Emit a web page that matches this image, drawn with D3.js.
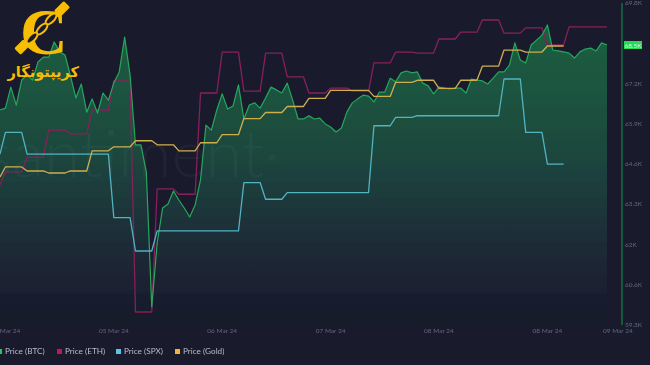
<!DOCTYPE html>
<html><head><meta charset="utf-8">
<script src="https://cdnjs.cloudflare.com/ajax/libs/d3/7.8.5/d3.min.js"></script>
<style>html,body{margin:0;padding:0;background:#191a2c;overflow:hidden}svg{display:block}text{font-family:Lato,"Open Sans",sans-serif}</style>
</head><body><svg id="c" width="650" height="365"></svg>
<script>
const btc=[66.34,66.40,67.08,66.50,67.31,67.47,67.31,67.89,68.05,68.05,68.54,68.22,68.12,67.44,66.73,67.18,66.27,66.70,66.24,66.89,66.66,67.21,67.57,68.70,67.47,65.21,65.21,64.33,59.97,62.04,63.17,63.30,63.72,63.43,63.17,62.88,63.27,64.08,65.85,65.69,66.34,66.86,66.37,66.47,67.15,66.05,66.50,66.57,66.40,66.73,67.08,66.99,66.89,67.21,66.66,66.05,66.05,66.15,66.05,66.08,65.89,65.79,65.63,65.76,66.27,66.57,66.70,66.82,66.79,66.60,66.92,66.92,67.37,67.25,67.54,67.60,67.54,67.57,67.21,67.12,66.86,67.08,67.05,67.02,67.05,67.05,66.89,67.34,67.31,67.28,67.18,67.37,67.57,67.57,67.79,68.51,67.96,67.86,68.44,68.60,68.76,69.09,68.28,68.25,68.22,68.18,68.02,68.22,68.31,68.34,68.25,68.51,68.44];
const eth=[3561,3588,3618,3674,3666,3715,3775,3300,3553,3542,3750,3834,3754,3832,3783,3750,3760,3754,3812,3834,3832,3861,3875,3900,3873,3884,3849,3886,3886];
const spx=[5118,5131,5118,5118,5118,5118,5080,5060,5072,5072,5072,5072,5101,5091,5095,5095,5095,5095,5135,5140,5141,5141,5141,5141,5163,5131,5112];
const gold=[2113,2118,2116,2115,2116,2126,2128,2131,2129,2126,2130,2134,2142,2145,2148,2152,2156,2156,2153,2160,2161,2157,2161,2168,2176,2175,2178];
const yLabels=["69.8K","68.5K","67.2K","65.9K","64.6K","63.3K","62K","60.6K","59.3K"];
const xLabels=["04 Mar 24","05 Mar 24","06 Mar 24","07 Mar 24","08 Mar 24","08 Mar 24","09 Mar 24"];
const xTickIdx=[1,21,41,61,81,101,114];
const legendNames=["Price (BTC)","Price (ETH)","Price (SPX)","Price (Gold)"];
const legendColors=["#22c55e","#c2185b","#56c5e8","#f5b335"];
const lastLabel="68.5K";
const logoText="کریپتونگار";

const svg=d3.select("#c");
const x=d3.scaleLinear().domain([0,112]).range([0,607]);
const yB=d3.scaleLinear().domain([69.897,59.97]).range([0,307]);
const yE=d3.scaleLinear().domain([3900,3300]).range([20,312]);
const yS=d3.scaleLinear().domain([5163,5060]).range([79,251]);
const yG=d3.scaleLinear().domain([2178,2115]).range([46,173]);
const yT=d3.scalePoint().domain(yLabels).range([3,325]);
const expand=a=>a.flatMap((v,k)=>k===0?[[0,v]]:[1,2,3,4].map(o=>[4*(k-1)+o,v]));

const defs=svg.append("defs");
const g=defs.append("linearGradient").attr("id","ga").attr("gradientUnits","userSpaceOnUse")
 .attr("x1",0).attr("x2",0).attr("y1",30).attr("y2",315);
[[0,"#1b5f40"],[0.4,"#1c4a3e"],[0.72,"#1b2e38"],[1,"#191a2c"]].forEach(s=>
 g.append("stop").attr("offset",s[0]).attr("stop-color",s[1]));
defs.append("filter").attr("id","soft").append("feGaussianBlur").attr("stdDeviation",0.4);

svg.append("rect").attr("width",650).attr("height",365).attr("fill","#191a2c");

const btcPts=btc.map((v,i)=>[i,v]);
const plot=svg.append("g").attr("filter","url(#soft)");
plot.append("path").datum(btcPts).attr("fill","url(#ga)")
 .attr("d",d3.area().x(d=>x(d[0])).y0(325).y1(d=>yB(d[1])));
plot.append("text").attr("x",-16).attr("y",177).attr("font-size",66).attr("font-weight",300)
 .attr("fill","#ffffff").attr("fill-opacity",0.035).text("santiment·");

const line=(pts,yy,c,w)=>plot.append("path").datum(pts).attr("fill","none").attr("stroke",c)
 .attr("stroke-width",w).attr("stroke-linejoin","round").attr("d",d3.line().x(d=>x(d[0])).y(d=>yy(d[1])));
line(expand(eth),yE,"#86205a",1.3);
line(btcPts,yB,"#25a85c",1.2);
line(expand(spx),yS,"#52b3c2",1.3);
line(expand(gold),yG,"#cfae4e",1.3);

plot.append("line").attr("x1",622).attr("x2",622).attr("y1",3).attr("y2",325).attr("stroke","#17583c").attr("stroke-width",2);
const ax=svg.append("g").attr("filter","url(#soft)");
ax.selectAll("text.yt").data(yLabels.filter(d=>d!==lastLabel)).join("text").attr("class","yt").attr("x",625).attr("y",d=>yT(d)+2)
 .attr("font-size",6.5).attr("fill","#63667a").text(d=>d);
ax.append("rect").attr("x",624).attr("y",41).attr("width",18).attr("height",8).attr("fill","#27d957");
ax.append("text").attr("x",633).attr("y",47.5).attr("text-anchor","middle").attr("font-size",6.5).attr("fill","#d8f5dd").text(lastLabel);
ax.selectAll("text.xt").data(xLabels).join("text").attr("class","xt").attr("x",(d,i)=>x(xTickIdx[i])).attr("y",333)
 .attr("text-anchor","middle").attr("font-size",6.5).attr("fill","#63667a").text(d=>d);

const lx=[-3,57,116,175];
const lg=svg.append("g").attr("filter","url(#soft)");
legendNames.forEach((n,i)=>{
 lg.append("rect").attr("x",lx[i]).attr("y",349).attr("width",5).attr("height",5).attr("fill",legendColors[i]);
 lg.append("text").attr("x",lx[i]+8).attr("y",354).attr("font-size",8.2).attr("fill","#b9bcc8").text(n);
});

const lo=svg.append("g");
const gc="#f7bd05";
lo.append("text").attr("x",20).attr("y",54).attr("font-size",66).attr("font-weight",700)
 .style("font-family","'Liberation Serif'").attr("fill",gc).text("C");
[[51,19],[42,29],[32,38]].forEach(c=>lo.append("ellipse").attr("rx",7).attr("ry",3.2)
 .attr("transform",`translate(${c[0]},${c[1]}) rotate(-45)`).attr("fill","#191a2c").attr("stroke",gc).attr("stroke-width",2));
[[62,9,14,9],[22,47,13,9]].forEach(c=>lo.append("rect").attr("x",-c[2]/2).attr("y",-c[3]/2).attr("width",c[2]).attr("height",c[3])
 .attr("rx",1.5).attr("transform",`translate(${c[0]},${c[1]}) rotate(-45)`).attr("fill",gc));
lo.append("text").attr("x",79).attr("y",77).attr("font-size",14.5).attr("font-weight",700)
 .attr("direction","rtl").style("font-family","'DejaVu Sans'").attr("fill",gc).text(logoText);
</script></body></html>
